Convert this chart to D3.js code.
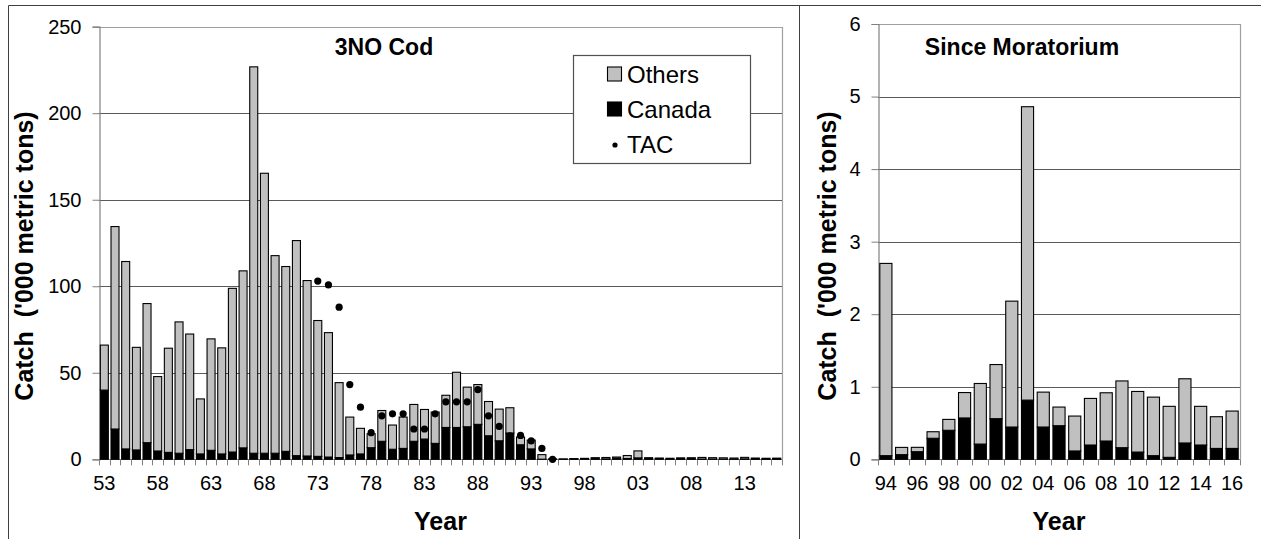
<!DOCTYPE html>
<html>
<head>
<meta charset="utf-8">
<script src="https://cdn.jsdelivr.net/npm/d3@7"></script>
<style>
  html, body { margin: 0; padding: 0; background: #fff; }
  svg { display: block; font-family: "Liberation Sans", Arial, sans-serif; }
</style>
</head>
<body>
<svg id="chart" width="1261" height="539"></svg>
<script>
// 3NO cod catches ('000 metric tons), 1953-2016
const years = d3.range(1953, 2017);
const canada = [
  40, 17.5, 6, 5.4, 9.6, 4.8, 4, 3.5, 5.6, 3.1,
  5.2, 3.1, 4.2, 6.6, 3.5, 3.5, 3.5, 4.6, 2.1, 1.9,
  1.7, 1.3, 1, 2.5, 3.1, 6.7, 10.4, 5.8, 6.3, 10.4,
  11.7, 9.2, 18.4, 18.4, 18.8, 20.2, 13.6, 10.7, 15.2, 8.4,
  6, 0.05, 0.064, 0.105, 0.29, 0.40, 0.57, 0.21, 0.56, 0.445,
  0.816, 0.445, 0.463, 0.115, 0.197, 0.252, 0.16, 0.10, 0.05, 0.027,
  0.225, 0.197, 0.15, 0.15
];
const others = [
  26, 117, 108.3, 59.3, 80.4, 43, 60.2, 75.9, 66.8, 31.8,
  64.4, 61.3, 94.6, 102.3, 223.3, 161.8, 114.2, 106.8, 124.3, 101.4,
  78.5, 71.9, 43.3, 21.9, 14.8, 8.1, 17.8, 14, 18.1, 21.3,
  17.1, 18.1, 18.6, 31.9, 22.9, 23, 19.8, 18.3, 14.6, 4.5,
  5.1, 2.65, 0.10, 0.06, 0.09, 0.15, 0.35, 0.835, 0.746, 1.735,
  4.044, 0.481, 0.257, 0.481, 0.642, 0.665, 0.92, 0.835, 0.807, 0.703,
  0.885, 0.533, 0.437, 0.515
];
// Total allowable catch, 1973-1995
const tacYears = d3.range(1973, 1996);
const tac = [
  103, 100.8, 87.9, 43.2, 30.1, 15.4, 25.1, 26.3, 26.3, 17.5,
  17.5, 26.3, 33.2, 33.2, 33.2, 40.3, 25.1, 19.0, 13.6, 13.8,
  10.6, 6.3, 0
];
const leftTicks = [0, 50, 100, 150, 200, 250];
const rightTicks = [0, 1, 2, 3, 4, 5, 6];
const leftLabelYears = d3.range(1953, 2017, 5);
const rightLabelYears = d3.range(1994, 2017, 2);
const seriesNames = ["Others", "Canada", "TAC"];

const rows = years.map((y, i) => ({ year: y, Canada: canada[i], Others: others[i] }));
const tacRows = tacYears.map((y, i) => ({ year: y, value: tac[i] }));
const stack = d3.stack().keys(["Canada", "Others"]);

const svg = d3.select("#chart");
const FILL = { Canada: "#000000", Others: "#c0c0c0" };
const yy = y => String(y % 100).padStart(2, "0");

// page frame and divider
svg.append("g").attr("stroke", "#404040").attr("stroke-width", 1).attr("fill", "none")
  .selectAll("line").data([[8.5, 5.5, 1261, 5.5], [8.5, 5.5, 8.5, 539], [799.5, 5.5, 799.5, 539]])
  .join("line")
  .attr("x1", d => d[0]).attr("y1", d => d[1]).attr("x2", d => d[2]).attr("y2", d => d[3]);

function panel(opt) {
  const data = rows.filter(r => r.year >= opt.from);
  const x = d3.scaleBand().domain(data.map(d => d.year)).range([opt.x0, opt.x1]).paddingInner(opt.pad).paddingOuter(opt.pad / 2);
  const y = d3.scaleLinear().domain([0, opt.max]).range([opt.yb, opt.yt]);
  const g = svg.append("g");

  // gridlines
  g.append("g").selectAll("line").data(opt.ticks.filter(t => t > 0 && t < opt.max)).join("line")
    .attr("x1", opt.x0).attr("x2", opt.x1)
    .attr("y1", d => Math.round(y(d)) + 0.5).attr("y2", d => Math.round(y(d)) + 0.5)
    .attr("stroke", "#5a5a5a").attr("stroke-width", 1);

  // plot-area outline (top and right)
  g.append("path")
    .attr("d", `M${opt.x0},${Math.round(opt.yt) + 0.5}H${Math.round(opt.x1) + 0.5}V${opt.yb}`)
    .attr("fill", "none").attr("stroke", "#a0a0a0").attr("stroke-width", 1.2);

  // y axis
  const ya = g.append("g").attr("transform", `translate(${Math.round(opt.x0) + 0.5},0)`)
    .call(d3.axisLeft(y).tickValues(opt.ticks).tickSize(7).tickPadding(11).tickFormat(d3.format("d")));
  ya.select(".domain").attr("stroke", "#808080").attr("stroke-width", 1.2);
  ya.selectAll(".tick line").attr("stroke", "#808080");
  ya.selectAll("text").attr("font-size", 20).attr("fill", "#000")
    .attr("font-family", "Liberation Sans, Arial, sans-serif");

  // x axis: baseline, ticks at category boundaries, labels at centres
  const step = x.step();
  const bounds = data.map(d => x(d.year) - x.paddingInner() * step / 2).concat([opt.x1]);
  const xa = g.append("g");
  xa.append("line").attr("x1", opt.x0).attr("x2", opt.x1)
    .attr("y1", Math.round(opt.yb) + 0.5).attr("y2", Math.round(opt.yb) + 0.5)
    .attr("stroke", "#808080").attr("stroke-width", 1.2);
  xa.selectAll("line.tk").data(bounds).join("line").attr("class", "tk")
    .attr("x1", d => Math.round(d) + 0.5).attr("x2", d => Math.round(d) + 0.5)
    .attr("y1", opt.yb).attr("y2", opt.yb + 6)
    .attr("stroke", "#808080");
  xa.selectAll("text").data(opt.labels).join("text")
    .attr("x", d => x(d) + x.bandwidth() / 2).attr("y", opt.yb + 31)
    .attr("text-anchor", "middle").attr("font-size", 20).text(yy);

  // stacked bars
  const layers = stack(data);
  g.append("g").selectAll("g").data(layers).join("g")
    .attr("fill", d => FILL[d.key])
    .selectAll("rect").data(d => d).join("rect")
    .attr("x", d => x(d.data.year)).attr("width", x.bandwidth())
    .attr("y", d => y(d[1])).attr("height", d => Math.max(0, y(d[0]) - y(d[1])))
    .attr("stroke", "#000").attr("stroke-width", 1.1);

  // TAC points
  if (opt.tac) {
    g.append("g").selectAll("circle").data(tacRows.filter(d => d.year >= opt.from)).join("circle")
      .attr("cx", d => x(d.year) + x.bandwidth() / 2).attr("cy", d => y(d.value))
      .attr("r", 3.6).attr("fill", "#000");
  }

  // titles
  g.append("text").attr("x", opt.titleX).attr("y", 55).attr("text-anchor", "middle")
    .attr("font-size", 23).attr("font-weight", "bold").text(opt.title);
  g.append("text").attr("transform", `translate(${opt.ytx},${opt.yty}) rotate(-90)`)
    .attr("text-anchor", "middle").attr("font-size", 25).attr("font-weight", "bold")
    .attr("xml:space", "preserve")
    .text("Catch  ('000 metric tons)");
  g.append("text").attr("x", (opt.x0 + opt.x1) / 2).attr("y", 530).attr("text-anchor", "middle")
    .attr("font-size", 25).attr("font-weight", "bold").text("Year");
  return { x, y };
}

panel({ from: 1953, x0: 99, x1: 782, yt: 26.7, yb: 459.3, max: 250, pad: 0.25,
  ticks: leftTicks, labels: leftLabelYears, tac: true,
  title: "3NO Cod", titleX: 384, ytx: 33, yty: 256 });
panel({ from: 1994, x0: 878, x1: 1240, yt: 24, yb: 459.3, max: 6, pad: 0.23,
  ticks: rightTicks, labels: rightLabelYears, tac: false,
  title: "Since Moratorium", titleX: 1022, ytx: 836, yty: 256 });

// legend
const lg = svg.append("g");
lg.append("rect").attr("x", 573.5).attr("y", 55.5).attr("width", 177).attr("height", 108)
  .attr("fill", "#fff").attr("stroke", "#505050").attr("stroke-width", 1.2);
const item = lg.selectAll("g.item").data(seriesNames).join("g").attr("class", "item")
  .attr("transform", (d, i) => `translate(0,${74 + i * 35})`);
item.filter(d => d !== "TAC").append("rect")
  .attr("x", 607.5).attr("y", -7).attr("width", 14).attr("height", 14)
  .attr("fill", d => FILL[d]).attr("stroke", "#000").attr("stroke-width", 1.1);
item.filter(d => d === "TAC").append("circle")
  .attr("cx", 615).attr("cy", 1).attr("r", 2.6).attr("fill", "#000");
item.append("text").attr("x", 627).attr("y", 8.5).attr("font-size", 24).text(d => d);
</script>
</body>
</html>
